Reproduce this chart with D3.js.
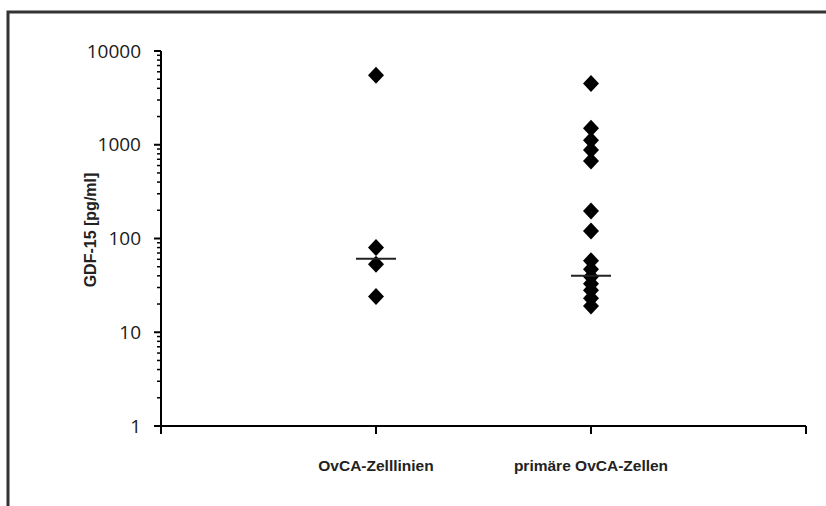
<!DOCTYPE html>
<html>
<head>
<meta charset="utf-8">
<script src="https://cdn.jsdelivr.net/npm/d3@7"></script>
<style>
  body { margin: 0; background: #fff; }
</style>
</head>
<body>
<div id="chart"></div>
<script>
var width  = 826;
var height = 506;

// ------------- data -----------------
var categories = ["OvCA-Zelllinien", "primäre OvCA-Zellen"];
var catPos     = [1, 2];
var zelllinien = [5500, 80, 53, 24];
var primaere   = [4500, 1500, 1120, 880, 670, 197, 120, 58, 47, 39, 33, 28, 23, 19];
var medians    = [61, 40];
var yTicks     = [1, 10, 100, 1000, 10000];
var yTitle     = "GDF-15 [pg/ml]";

var svg = d3.select("#chart").append("svg")
    .attr("width", width)
    .attr("height", height);

svg.append("rect")
    .attr("x", 0).attr("y", 0)
    .attr("width", width).attr("height", height)
    .attr("fill", "#fff");

// frame round the figure, runs off right and bottom
svg.append("rect")
    .attr("x", 8).attr("y", 12)
    .attr("width", 900).attr("height", 600)
    .attr("fill", "none")
    .attr("stroke", "#333")
    .attr("stroke-width", 3);

var x = d3.scaleLinear().domain([0, 3]).range([161, 806]);
var y = d3.scaleLog().domain([1, 10000]).range([426, 51]);

// ------------- y axis -----------------
var minor = [];
for (var d = 1; d < 10000; d *= 10) {
  for (var k = 2; k < 10; k++) minor.push(d * k);
}

var gY = svg.append("g").attr("transform", "translate(" + x(0) + ",0)");

gY.append("line")
    .attr("y1", y(1)).attr("y2", y(10000))
    .attr("stroke", "#000").attr("stroke-width", 2);

gY.selectAll("line.minor")
    .data(minor)
    .enter()
  .append("line")
    .attr("class", "minor")
    .attr("x1", -4).attr("x2", 0)
    .attr("y1", function(d){ return y(d); })
    .attr("y2", function(d){ return y(d); })
    .attr("stroke", "#000").attr("stroke-width", 1.5);

gY.selectAll("line.major")
    .data(yTicks)
    .enter()
  .append("line")
    .attr("class", "major")
    .attr("x1", -7).attr("x2", 0)
    .attr("y1", function(d){ return y(d); })
    .attr("y2", function(d){ return y(d); })
    .attr("stroke", "#000").attr("stroke-width", 2);

gY.selectAll("text")
    .data(yTicks)
    .enter()
  .append("text")
    .attr("x", -20)
    .attr("y", function(d){ return y(d); })
    .attr("dy", "0.35em")
    .attr("text-anchor", "end")
    .style("font-family", "'Open Sans', sans-serif")
    .style("font-size", "19px")
    .attr("fill", "#1a1a1a")
    .text(function(d){ return d; });

svg.append("text")
    .attr("transform", "translate(96," + 230 + ") rotate(-90)")
    .attr("text-anchor", "middle")
    .style("font-family", "'Liberation Sans', Arial, sans-serif")
    .style("font-weight", "bold")
    .style("font-size", "16px")
    .attr("fill", "#222")
    .text(yTitle);

// ------------- x axis -----------------
svg.append("line")
    .attr("x1", x(0)).attr("x2", x(3))
    .attr("y1", y(1)).attr("y2", y(1))
    .attr("stroke", "#000").attr("stroke-width", 2);

svg.selectAll("line.xtick")
    .data([0, 1, 2, 3])
    .enter()
  .append("line")
    .attr("class", "xtick")
    .attr("x1", function(d){ return x(d); })
    .attr("x2", function(d){ return x(d); })
    .attr("y1", y(1)).attr("y2", y(1) + 8)
    .attr("stroke", "#000").attr("stroke-width", 2);

svg.selectAll("text.cat")
    .data(categories)
    .enter()
  .append("text")
    .attr("class", "cat")
    .attr("x", function(d, i){ return x(catPos[i]); })
    .attr("y", 471)
    .attr("text-anchor", "middle")
    .style("font-family", "'Liberation Sans', Arial, sans-serif")
    .style("font-weight", "bold")
    .style("font-size", "15.5px")
    .attr("fill", "#222")
    .text(function(d){ return d; });

// ------------- points -----------------
var points = zelllinien.map(function(v){ return {c: catPos[0], v: v}; })
    .concat(primaere.map(function(v){ return {c: catPos[1], v: v}; }));

var diamond = "M0,-8.5L8,0L0,8.5L-8,0Z";

svg.selectAll("path.pt")
    .data(points)
    .enter()
  .append("path")
    .attr("class", "pt")
    .attr("d", diamond)
    .attr("transform", function(d){ return "translate(" + x(d.c) + "," + y(d.v) + ")"; })
    .attr("fill", "#000");

// median bars
svg.selectAll("line.med")
    .data(medians)
    .enter()
  .append("line")
    .attr("class", "med")
    .attr("x1", function(d, i){ return x(catPos[i]) - 20; })
    .attr("x2", function(d, i){ return x(catPos[i]) + 20; })
    .attr("y1", function(d){ return y(d); })
    .attr("y2", function(d){ return y(d); })
    .attr("stroke", "#222").attr("stroke-width", 2);
</script>
</body>
</html>
